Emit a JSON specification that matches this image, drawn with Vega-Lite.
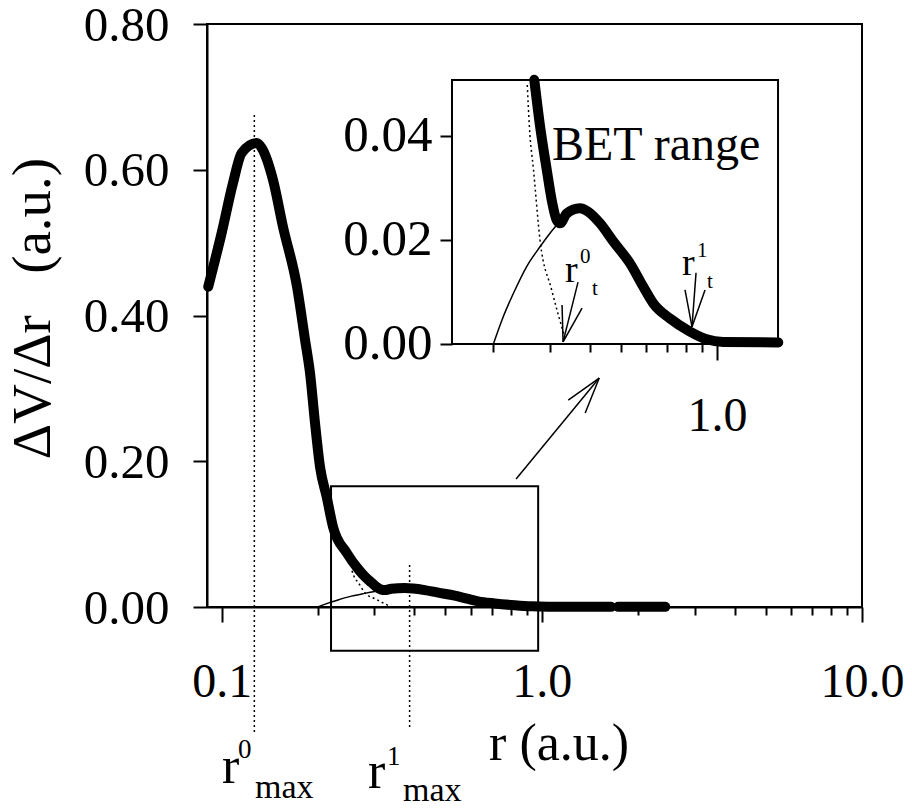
{
  "$schema": "https://vega.github.io/schema/vega-lite/v6.json",
  "width": 655,
  "height": 583,
  "autosize": "none",
  "padding": {"left": 207, "top": 24, "right": 50, "bottom": 202},
  "background": "white",
  "config": {
    "view": {"stroke": "black", "strokeWidth": 2},
    "axis": {
      "labelFont": "Liberation Serif",
      "labelFontSize": 48,
      "labelColor": "black",
      "tickColor": "black",
      "tickWidth": 2,
      "domainColor": "black",
      "domainWidth": 2,
      "grid": false,
      "labelFlush": false,
      "labelOverlap": false,
      "labelBound": false,
      "titleFont": "Liberation Serif",
      "titleFontWeight": "normal",
      "titleColor": "black"
    }
  },
  "datasets": {
    "thick": [
      {"seg": "a", "r": 0.0908, "v": 0.4395},
      {"seg": "a", "r": 0.1000, "v": 0.5132},
      {"seg": "a", "r": 0.1085, "v": 0.5818},
      {"seg": "a", "r": 0.1155, "v": 0.6230},
      {"seg": "a", "r": 0.1287, "v": 0.6367},
      {"seg": "a", "r": 0.1334, "v": 0.6298},
      {"seg": "a", "r": 0.1447, "v": 0.5859},
      {"seg": "a", "r": 0.1555, "v": 0.5214},
      {"seg": "a", "r": 0.1720, "v": 0.4391},
      {"seg": "a", "r": 0.1822, "v": 0.3664},
      {"seg": "a", "r": 0.1888, "v": 0.3211},
      {"seg": "a", "r": 0.1957, "v": 0.2525},
      {"seg": "a", "r": 0.2029, "v": 0.1921},
      {"seg": "a", "r": 0.2129, "v": 0.1509},
      {"seg": "a", "r": 0.2228, "v": 0.1098},
      {"seg": "a", "r": 0.2459, "v": 0.0741},
      {"seg": "a", "r": 0.2685, "v": 0.0508},
      {"seg": "a", "r": 0.2800, "v": 0.0418},
      {"seg": "a", "r": 0.2937, "v": 0.0335},
      {"seg": "a", "r": 0.3043, "v": 0.0277},
      {"seg": "a", "r": 0.3155, "v": 0.0238},
      {"seg": "a", "r": 0.3231, "v": 0.0232},
      {"seg": "a", "r": 0.3391, "v": 0.0251},
      {"seg": "a", "r": 0.3731, "v": 0.0261},
      {"seg": "a", "r": 0.3962, "v": 0.0254},
      {"seg": "a", "r": 0.4309, "v": 0.0232},
      {"seg": "a", "r": 0.4743, "v": 0.0197},
      {"seg": "a", "r": 0.5348, "v": 0.0155},
      {"seg": "a", "r": 0.5884, "v": 0.0110},
      {"seg": "a", "r": 0.6324, "v": 0.0078},
      {"seg": "a", "r": 0.7129, "v": 0.0049},
      {"seg": "a", "r": 0.8232, "v": 0.0024},
      {"seg": "a", "r": 0.9286, "v": 0.0009},
      {"seg": "a", "r": 1.0464, "v": 0.0004},
      {"seg": "a", "r": 1.5540, "v": 0.0003},
      {"seg": "a", "r": 1.6470, "v": 0.0002},
      {"seg": "b", "r": 1.7320, "v": 0.0002},
      {"seg": "b", "r": 2.4290, "v": 0.0002}
    ],
    "thin": [
      {"r": 0.2000, "v": 0.0000},
      {"r": 0.2149, "v": 0.0053},
      {"r": 0.2309, "v": 0.0097},
      {"r": 0.2542, "v": 0.0149},
      {"r": 0.2798, "v": 0.0187},
      {"r": 0.3007, "v": 0.0213},
      {"r": 0.3191, "v": 0.0232}
    ],
    "dotted": [
      {"r": 0.2553, "v": 0.0498},
      {"r": 0.2592, "v": 0.0418},
      {"r": 0.2670, "v": 0.0335},
      {"r": 0.2798, "v": 0.0200},
      {"r": 0.3043, "v": 0.0104},
      {"r": 0.3350, "v": 0.0011}
    ],
    "vrules": [
      {"r": 0.1265, "v1": 0.675, "v2": -0.1715},
      {"r": 0.3864, "v1": 0.0576, "v2": -0.166}
    ],
    "mainBox": [
      {"r1": 0.2196, "r2": 0.974, "v1": -0.06, "v2": 0.1656}
    ],
    "arrows": [
      {"r1": 0.831, "v1": 0.1756, "r2": 1.511, "v2": 0.3142},
      {"r1": 1.209, "v1": 0.284, "r2": 1.511, "v2": 0.3142},
      {"r1": 1.366, "v1": 0.2662, "r2": 1.511, "v2": 0.3142}
    ],
    "mainBig": [
      {"r": 0.1003, "v": -0.2415, "label": "r"},
      {"r": 0.2866, "v": -0.2484, "label": "r"},
      {"r": 0.6844, "v": -0.21, "label": "r (a.u.)"}
    ],
    "mainSup": [
      {"r": 0.1125, "v": -0.2072, "label": "0"},
      {"r": 0.3286, "v": -0.2168, "label": "1"}
    ],
    "mainSub": [
      {"r": 0.1271, "v": -0.2621, "label": "max"},
      {"r": 0.3687, "v": -0.2662, "label": "max"}
    ],
    "insetBox": [
      {"r1": 0.14851, "r2": 1.5512, "v1": 0, "v2": 0.050769}
    ],
    "insetArrows": [
      {"r1": 0.3678, "v1": 0.0119, "r2": 0.3303, "v2": 0.0004},
      {"r1": 0.3279, "v1": 0.0075, "r2": 0.3303, "v2": 0.0004},
      {"r1": 0.3786, "v1": 0.0069, "r2": 0.3303, "v2": 0.0004},
      {"r1": 0.8599, "v1": 0.0137, "r2": 0.8352, "v2": 0.0033},
      {"r1": 0.7943, "v1": 0.0104, "r2": 0.8352, "v2": 0.0033},
      {"r1": 0.9173, "v1": 0.0104, "r2": 0.8352, "v2": 0.0033}
    ],
    "insetBig": [
      {"r": 0.3350, "v": 0.01192, "label": "r"},
      {"r": 0.7772, "v": 0.01327, "label": "r"}
    ],
    "insetSmall": [
      {"r": 0.3731, "v": 0.01558, "label": "0"},
      {"r": 0.4068, "v": 0.00942, "label": "t"},
      {"r": 0.8660, "v": 0.01673, "label": "1"},
      {"r": 0.9306, "v": 0.01077, "label": "t"}
    ],
    "bet": [
      {"r": 0.3050, "v": 0.03538, "label": "BET range"}
    ]
  },
  "resolve": {"scale": {"x": "independent", "y": "independent"}},
  "layer": [
    {
      "data": {"name": "thick"},
      "mark": {"type": "line", "stroke": "black", "strokeWidth": 10, "strokeCap": "round", "strokeJoin": "round", "interpolate": "monotone"},
      "encoding": {
        "x": {"field": "r", "type": "quantitative", "scale": {"type": "log", "domain": [0.09, 10], "nice": false},
              "axis": {"orient": "bottom", "values": [0.1, 1, 10], "format": ".1f", "tickSize": 15, "labelPadding": 36, "title": null}},
        "y": {"field": "v", "type": "quantitative", "scale": {"domain": [0, 0.8], "nice": false, "zero": false},
              "axis": {"orient": "left", "values": [0, 0.2, 0.4, 0.6, 0.8], "format": ".2f", "tickSize": 14, "labelPadding": 24, "labelFontSize": 49, "labelOffset": 1,
                       "title": "ΔV/Δr\u00a0\u00a0 (a.u.)", "titleFontSize": 55, "titleX": -175, "titleY": 284, "titleAngle": -90, "titleAlign": "center", "titleBaseline": "middle"}},
        "detail": {"field": "seg", "type": "nominal"}
      }
    },
    {
      "data": {"name": "thin"},
      "mark": {"type": "line", "stroke": "black", "strokeWidth": 1.5, "interpolate": "monotone"},
      "encoding": {
        "x": {"field": "r", "type": "quantitative", "scale": {"type": "log", "domain": [0.09, 10], "nice": false},
              "axis": {"orient": "bottom", "values": [0.2, 0.3, 0.4, 0.5, 0.6, 0.7, 0.8, 0.9, 2, 3, 4, 5, 6, 7, 8, 9], "tickSize": 8, "labels": false, "domain": false, "title": null}},
        "y": {"field": "v", "type": "quantitative", "scale": {"domain": [0, 0.8], "nice": false, "zero": false}, "axis": null}
      }
    },
    {
      "data": {"name": "dotted"},
      "mark": {"type": "line", "stroke": "black", "strokeWidth": 1.5, "strokeDash": [2, 3], "interpolate": "monotone"},
      "encoding": {
        "x": {"field": "r", "type": "quantitative", "scale": {"type": "log", "domain": [0.09, 10], "nice": false}, "axis": null},
        "y": {"field": "v", "type": "quantitative", "scale": {"domain": [0, 0.8], "nice": false, "zero": false}, "axis": null}
      }
    },
    {
      "data": {"name": "vrules"},
      "mark": {"type": "rule", "stroke": "black", "strokeWidth": 1.5, "strokeDash": [2, 3]},
      "encoding": {
        "x": {"field": "r", "type": "quantitative", "scale": {"type": "log", "domain": [0.09, 10], "nice": false}, "axis": null},
        "y": {"field": "v1", "type": "quantitative", "scale": {"domain": [0, 0.8], "nice": false, "zero": false}, "axis": null},
        "y2": {"field": "v2"}
      }
    },
    {
      "data": {"name": "mainBox"},
      "mark": {"type": "rect", "fillOpacity": 0, "stroke": "black", "strokeWidth": 2},
      "encoding": {
        "x": {"field": "r1", "type": "quantitative", "scale": {"type": "log", "domain": [0.09, 10], "nice": false}, "axis": null},
        "x2": {"field": "r2"},
        "y": {"field": "v1", "type": "quantitative", "scale": {"domain": [0, 0.8], "nice": false, "zero": false}, "axis": null},
        "y2": {"field": "v2"}
      }
    },
    {
      "data": {"name": "arrows"},
      "mark": {"type": "rule", "stroke": "black", "strokeWidth": 1.5},
      "encoding": {
        "x": {"field": "r1", "type": "quantitative", "scale": {"type": "log", "domain": [0.09, 10], "nice": false}, "axis": null},
        "x2": {"field": "r2"},
        "y": {"field": "v1", "type": "quantitative", "scale": {"domain": [0, 0.8], "nice": false, "zero": false}, "axis": null},
        "y2": {"field": "v2"}
      }
    },
    {
      "data": {"name": "mainBig"},
      "mark": {"type": "text", "font": "Liberation Serif", "fontSize": 52, "align": "left", "baseline": "alphabetic", "color": "black"},
      "encoding": {
        "x": {"field": "r", "type": "quantitative", "scale": {"type": "log", "domain": [0.09, 10], "nice": false}, "axis": null},
        "y": {"field": "v", "type": "quantitative", "scale": {"domain": [0, 0.8], "nice": false, "zero": false}, "axis": null},
        "text": {"field": "label"}
      }
    },
    {
      "data": {"name": "mainSup"},
      "mark": {"type": "text", "font": "Liberation Serif", "fontSize": 27, "align": "left", "baseline": "alphabetic", "color": "black"},
      "encoding": {
        "x": {"field": "r", "type": "quantitative", "scale": {"type": "log", "domain": [0.09, 10], "nice": false}, "axis": null},
        "y": {"field": "v", "type": "quantitative", "scale": {"domain": [0, 0.8], "nice": false, "zero": false}, "axis": null},
        "text": {"field": "label"}
      }
    },
    {
      "data": {"name": "mainSub"},
      "mark": {"type": "text", "font": "Liberation Serif", "fontSize": 34, "align": "left", "baseline": "alphabetic", "color": "black"},
      "encoding": {
        "x": {"field": "r", "type": "quantitative", "scale": {"type": "log", "domain": [0.09, 10], "nice": false}, "axis": null},
        "y": {"field": "v", "type": "quantitative", "scale": {"domain": [0, 0.8], "nice": false, "zero": false}, "axis": null},
        "text": {"field": "label"}
      }
    },
    {
      "data": {"name": "thick"},
      "transform": [{"filter": "datum.r >= 0.268 && datum.r <= 1.56"}],
      "mark": {"type": "line", "stroke": "black", "strokeWidth": 10, "strokeCap": "round", "strokeJoin": "round", "interpolate": "monotone"},
      "encoding": {
        "x": {"field": "r", "type": "quantitative", "scale": {"type": "log", "domain": [0.025476, 2.8384], "nice": false},
              "axis": {"orient": "bottom", "offset": -263, "values": [1], "format": ".1f", "tickSize": 16, "labelPadding": 32, "domain": false, "title": null}},
        "y": {"field": "v", "type": "quantitative", "scale": {"domain": [-0.050577, 0.061538], "nice": false, "zero": false},
              "axis": {"orient": "left", "offset": -245, "values": [0, 0.02, 0.04], "format": ".2f", "tickSize": 12, "labelPadding": 8, "labelFontSize": 51, "domain": false, "title": null}}
      }
    },
    {
      "data": {"name": "thin"},
      "mark": {"type": "line", "stroke": "black", "strokeWidth": 1.5, "interpolate": "monotone"},
      "encoding": {
        "x": {"field": "r", "type": "quantitative", "scale": {"type": "log", "domain": [0.025476, 2.8384], "nice": false},
              "axis": {"orient": "bottom", "offset": -263, "values": [0.2, 0.3, 0.4, 0.5, 0.6, 0.7, 0.8, 0.9], "tickSize": 8, "labels": false, "domain": false, "title": null}},
        "y": {"field": "v", "type": "quantitative", "scale": {"domain": [-0.050577, 0.061538], "nice": false, "zero": false}, "axis": null}
      }
    },
    {
      "data": {"name": "dotted"},
      "mark": {"type": "line", "stroke": "black", "strokeWidth": 1.5, "strokeDash": [2, 3], "interpolate": "monotone"},
      "encoding": {
        "x": {"field": "r", "type": "quantitative", "scale": {"type": "log", "domain": [0.025476, 2.8384], "nice": false}, "axis": null},
        "y": {"field": "v", "type": "quantitative", "scale": {"domain": [-0.050577, 0.061538], "nice": false, "zero": false}, "axis": null}
      }
    },
    {
      "data": {"name": "insetBox"},
      "mark": {"type": "rect", "fillOpacity": 0, "stroke": "black", "strokeWidth": 2},
      "encoding": {
        "x": {"field": "r1", "type": "quantitative", "scale": {"type": "log", "domain": [0.025476, 2.8384], "nice": false}, "axis": null},
        "x2": {"field": "r2"},
        "y": {"field": "v1", "type": "quantitative", "scale": {"domain": [-0.050577, 0.061538], "nice": false, "zero": false}, "axis": null},
        "y2": {"field": "v2"}
      }
    },
    {
      "data": {"name": "insetArrows"},
      "mark": {"type": "rule", "stroke": "black", "strokeWidth": 1.5},
      "encoding": {
        "x": {"field": "r1", "type": "quantitative", "scale": {"type": "log", "domain": [0.025476, 2.8384], "nice": false}, "axis": null},
        "x2": {"field": "r2"},
        "y": {"field": "v1", "type": "quantitative", "scale": {"domain": [-0.050577, 0.061538], "nice": false, "zero": false}, "axis": null},
        "y2": {"field": "v2"}
      }
    },
    {
      "data": {"name": "insetBig"},
      "mark": {"type": "text", "font": "Liberation Serif", "fontSize": 38, "align": "left", "baseline": "alphabetic", "color": "black"},
      "encoding": {
        "x": {"field": "r", "type": "quantitative", "scale": {"type": "log", "domain": [0.025476, 2.8384], "nice": false}, "axis": null},
        "y": {"field": "v", "type": "quantitative", "scale": {"domain": [-0.050577, 0.061538], "nice": false, "zero": false}, "axis": null},
        "text": {"field": "label"}
      }
    },
    {
      "data": {"name": "insetSmall"},
      "mark": {"type": "text", "font": "Liberation Serif", "fontSize": 21, "align": "left", "baseline": "alphabetic", "color": "black"},
      "encoding": {
        "x": {"field": "r", "type": "quantitative", "scale": {"type": "log", "domain": [0.025476, 2.8384], "nice": false}, "axis": null},
        "y": {"field": "v", "type": "quantitative", "scale": {"domain": [-0.050577, 0.061538], "nice": false, "zero": false}, "axis": null},
        "text": {"field": "label"}
      }
    },
    {
      "data": {"name": "bet"},
      "mark": {"type": "text", "font": "Liberation Serif", "fontSize": 48, "align": "left", "baseline": "alphabetic", "color": "black"},
      "encoding": {
        "x": {"field": "r", "type": "quantitative", "scale": {"type": "log", "domain": [0.025476, 2.8384], "nice": false}, "axis": null},
        "y": {"field": "v", "type": "quantitative", "scale": {"domain": [-0.050577, 0.061538], "nice": false, "zero": false}, "axis": null},
        "text": {"field": "label"}
      }
    }
  ]
}
